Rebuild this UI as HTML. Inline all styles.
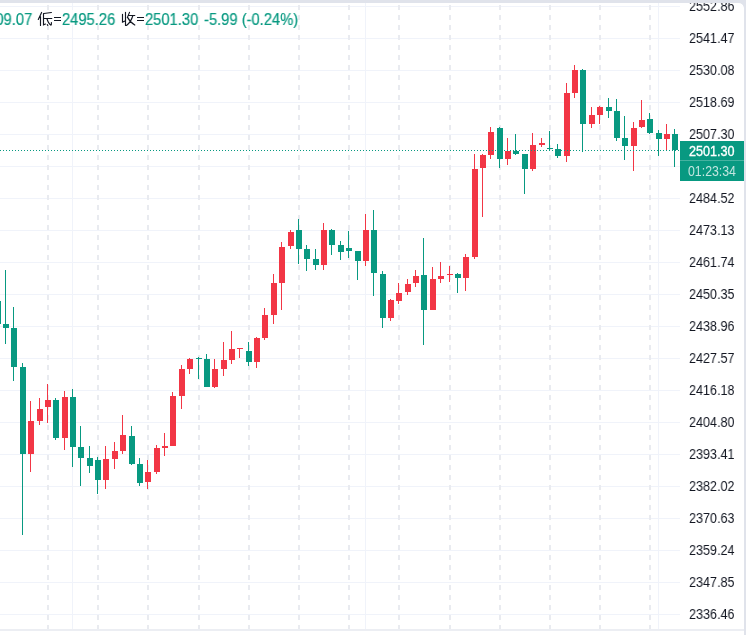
<!DOCTYPE html>
<html><head><meta charset="utf-8"><style>
html,body{margin:0;padding:0;}
body{width:746px;height:635px;overflow:hidden;background:#e0e3eb;position:relative;font-family:"Liberation Sans",sans-serif;}
#panel{position:absolute;left:-10px;top:3px;width:754px;height:640px;background:#fff;border-top-right-radius:5px;overflow:hidden;}
svg{position:absolute;left:0;top:0;}
#frame{pointer-events:none;position:absolute;left:-30px;top:3px;width:774px;height:700px;border-top-right-radius:5px;box-shadow:0 0 0 30px #e0e3eb;}
.pl{will-change:transform;position:absolute;left:689px;width:60px;font-size:14px;line-height:18px;color:#131722;transform:scaleX(0.9);transform-origin:0 0;white-space:nowrap;}
.lg{will-change:transform;position:absolute;top:10px;font-size:15.5px;line-height:18px;color:#089981;-webkit-text-stroke:0.2px #089981;white-space:nowrap;transform:scale(0.95,1.04);transform-origin:0 0;}
#badge{will-change:transform;position:absolute;left:680px;top:141px;width:64px;height:40px;background:#089981;}
#badge .t1{position:absolute;left:9px;top:3px;font-size:14px;line-height:14px;color:#fff;-webkit-text-stroke:0.35px #fff;transform:scaleX(0.9);transform-origin:0 0;}
#badge .t2{position:absolute;left:8px;top:23px;font-size:14px;line-height:14px;color:rgba(255,255,255,0.75);transform:scaleX(0.88);transform-origin:0 0;}
#badge .sep{position:absolute;left:0;top:19px;width:64px;height:1px;background:rgba(255,255,255,0.25);}
</style></head><body>
<div id="panel"></div>
<svg width="746" height="635" viewBox="0 0 746 635" shape-rendering="crispEdges">
<rect x="0" y="6" width="680" height="1" fill="#f0f3fa"/>
<rect x="0" y="38" width="680" height="1" fill="#f0f3fa"/>
<rect x="0" y="70" width="680" height="1" fill="#f0f3fa"/>
<rect x="0" y="102" width="680" height="1" fill="#f0f3fa"/>
<rect x="0" y="134" width="680" height="1" fill="#f0f3fa"/>
<rect x="0" y="166" width="680" height="1" fill="#f0f3fa"/>
<rect x="0" y="198" width="680" height="1" fill="#f0f3fa"/>
<rect x="0" y="230" width="680" height="1" fill="#f0f3fa"/>
<rect x="0" y="262" width="680" height="1" fill="#f0f3fa"/>
<rect x="0" y="294" width="680" height="1" fill="#f0f3fa"/>
<rect x="0" y="326" width="680" height="1" fill="#f0f3fa"/>
<rect x="0" y="358" width="680" height="1" fill="#f0f3fa"/>
<rect x="0" y="390" width="680" height="1" fill="#f0f3fa"/>
<rect x="0" y="422" width="680" height="1" fill="#f0f3fa"/>
<rect x="0" y="454" width="680" height="1" fill="#f0f3fa"/>
<rect x="0" y="486" width="680" height="1" fill="#f0f3fa"/>
<rect x="0" y="518" width="680" height="1" fill="#f0f3fa"/>
<rect x="0" y="550" width="680" height="1" fill="#f0f3fa"/>
<rect x="0" y="582" width="680" height="1" fill="#f0f3fa"/>
<rect x="0" y="614" width="680" height="1" fill="#f0f3fa"/>
<rect x="72" y="3" width="1" height="626" fill="#f0f3fa"/>
<rect x="365" y="3" width="1" height="626" fill="#f0f3fa"/>
<rect x="658" y="3" width="1" height="626" fill="#f0f3fa"/>
<path transform="translate(47 0)" d="M0 5h2v5h-2zM0 15h2v5h-2zM0 25h2v5h-2zM0 35h2v5h-2zM0 45h2v5h-2zM0 55h2v5h-2zM0 65h2v5h-2zM0 75h2v5h-2zM0 85h2v5h-2zM0 95h2v5h-2zM0 105h2v5h-2zM0 115h2v5h-2zM0 125h2v5h-2zM0 135h2v5h-2zM0 145h2v5h-2zM0 155h2v5h-2zM0 165h2v5h-2zM0 175h2v5h-2zM0 185h2v5h-2zM0 195h2v5h-2zM0 205h2v5h-2zM0 215h2v5h-2zM0 225h2v5h-2zM0 235h2v5h-2zM0 245h2v5h-2zM0 255h2v5h-2zM0 265h2v5h-2zM0 275h2v5h-2zM0 285h2v5h-2zM0 295h2v5h-2zM0 305h2v5h-2zM0 315h2v5h-2zM0 325h2v5h-2zM0 335h2v5h-2zM0 345h2v5h-2zM0 355h2v5h-2zM0 365h2v5h-2zM0 375h2v5h-2zM0 385h2v5h-2zM0 395h2v5h-2zM0 405h2v5h-2zM0 415h2v5h-2zM0 425h2v5h-2zM0 435h2v5h-2zM0 445h2v5h-2zM0 455h2v5h-2zM0 465h2v5h-2zM0 475h2v5h-2zM0 485h2v5h-2zM0 495h2v5h-2zM0 505h2v5h-2zM0 515h2v5h-2zM0 525h2v5h-2zM0 535h2v5h-2zM0 545h2v5h-2zM0 555h2v5h-2zM0 565h2v5h-2zM0 575h2v5h-2zM0 585h2v5h-2zM0 595h2v5h-2zM0 605h2v5h-2zM0 615h2v5h-2zM0 625h2v5h-2z" fill="#e9ebf0"/>
<path transform="translate(97 0)" d="M0 5h2v5h-2zM0 15h2v5h-2zM0 25h2v5h-2zM0 35h2v5h-2zM0 45h2v5h-2zM0 55h2v5h-2zM0 65h2v5h-2zM0 75h2v5h-2zM0 85h2v5h-2zM0 95h2v5h-2zM0 105h2v5h-2zM0 115h2v5h-2zM0 125h2v5h-2zM0 135h2v5h-2zM0 145h2v5h-2zM0 155h2v5h-2zM0 165h2v5h-2zM0 175h2v5h-2zM0 185h2v5h-2zM0 195h2v5h-2zM0 205h2v5h-2zM0 215h2v5h-2zM0 225h2v5h-2zM0 235h2v5h-2zM0 245h2v5h-2zM0 255h2v5h-2zM0 265h2v5h-2zM0 275h2v5h-2zM0 285h2v5h-2zM0 295h2v5h-2zM0 305h2v5h-2zM0 315h2v5h-2zM0 325h2v5h-2zM0 335h2v5h-2zM0 345h2v5h-2zM0 355h2v5h-2zM0 365h2v5h-2zM0 375h2v5h-2zM0 385h2v5h-2zM0 395h2v5h-2zM0 405h2v5h-2zM0 415h2v5h-2zM0 425h2v5h-2zM0 435h2v5h-2zM0 445h2v5h-2zM0 455h2v5h-2zM0 465h2v5h-2zM0 475h2v5h-2zM0 485h2v5h-2zM0 495h2v5h-2zM0 505h2v5h-2zM0 515h2v5h-2zM0 525h2v5h-2zM0 535h2v5h-2zM0 545h2v5h-2zM0 555h2v5h-2zM0 565h2v5h-2zM0 575h2v5h-2zM0 585h2v5h-2zM0 595h2v5h-2zM0 605h2v5h-2zM0 615h2v5h-2zM0 625h2v5h-2z" fill="#e9ebf0"/>
<path transform="translate(147 0)" d="M0 5h2v5h-2zM0 15h2v5h-2zM0 25h2v5h-2zM0 35h2v5h-2zM0 45h2v5h-2zM0 55h2v5h-2zM0 65h2v5h-2zM0 75h2v5h-2zM0 85h2v5h-2zM0 95h2v5h-2zM0 105h2v5h-2zM0 115h2v5h-2zM0 125h2v5h-2zM0 135h2v5h-2zM0 145h2v5h-2zM0 155h2v5h-2zM0 165h2v5h-2zM0 175h2v5h-2zM0 185h2v5h-2zM0 195h2v5h-2zM0 205h2v5h-2zM0 215h2v5h-2zM0 225h2v5h-2zM0 235h2v5h-2zM0 245h2v5h-2zM0 255h2v5h-2zM0 265h2v5h-2zM0 275h2v5h-2zM0 285h2v5h-2zM0 295h2v5h-2zM0 305h2v5h-2zM0 315h2v5h-2zM0 325h2v5h-2zM0 335h2v5h-2zM0 345h2v5h-2zM0 355h2v5h-2zM0 365h2v5h-2zM0 375h2v5h-2zM0 385h2v5h-2zM0 395h2v5h-2zM0 405h2v5h-2zM0 415h2v5h-2zM0 425h2v5h-2zM0 435h2v5h-2zM0 445h2v5h-2zM0 455h2v5h-2zM0 465h2v5h-2zM0 475h2v5h-2zM0 485h2v5h-2zM0 495h2v5h-2zM0 505h2v5h-2zM0 515h2v5h-2zM0 525h2v5h-2zM0 535h2v5h-2zM0 545h2v5h-2zM0 555h2v5h-2zM0 565h2v5h-2zM0 575h2v5h-2zM0 585h2v5h-2zM0 595h2v5h-2zM0 605h2v5h-2zM0 615h2v5h-2zM0 625h2v5h-2z" fill="#e9ebf0"/>
<path transform="translate(198 0)" d="M0 5h2v5h-2zM0 15h2v5h-2zM0 25h2v5h-2zM0 35h2v5h-2zM0 45h2v5h-2zM0 55h2v5h-2zM0 65h2v5h-2zM0 75h2v5h-2zM0 85h2v5h-2zM0 95h2v5h-2zM0 105h2v5h-2zM0 115h2v5h-2zM0 125h2v5h-2zM0 135h2v5h-2zM0 145h2v5h-2zM0 155h2v5h-2zM0 165h2v5h-2zM0 175h2v5h-2zM0 185h2v5h-2zM0 195h2v5h-2zM0 205h2v5h-2zM0 215h2v5h-2zM0 225h2v5h-2zM0 235h2v5h-2zM0 245h2v5h-2zM0 255h2v5h-2zM0 265h2v5h-2zM0 275h2v5h-2zM0 285h2v5h-2zM0 295h2v5h-2zM0 305h2v5h-2zM0 315h2v5h-2zM0 325h2v5h-2zM0 335h2v5h-2zM0 345h2v5h-2zM0 355h2v5h-2zM0 365h2v5h-2zM0 375h2v5h-2zM0 385h2v5h-2zM0 395h2v5h-2zM0 405h2v5h-2zM0 415h2v5h-2zM0 425h2v5h-2zM0 435h2v5h-2zM0 445h2v5h-2zM0 455h2v5h-2zM0 465h2v5h-2zM0 475h2v5h-2zM0 485h2v5h-2zM0 495h2v5h-2zM0 505h2v5h-2zM0 515h2v5h-2zM0 525h2v5h-2zM0 535h2v5h-2zM0 545h2v5h-2zM0 555h2v5h-2zM0 565h2v5h-2zM0 575h2v5h-2zM0 585h2v5h-2zM0 595h2v5h-2zM0 605h2v5h-2zM0 615h2v5h-2zM0 625h2v5h-2z" fill="#e9ebf0"/>
<path transform="translate(248 0)" d="M0 5h2v5h-2zM0 15h2v5h-2zM0 25h2v5h-2zM0 35h2v5h-2zM0 45h2v5h-2zM0 55h2v5h-2zM0 65h2v5h-2zM0 75h2v5h-2zM0 85h2v5h-2zM0 95h2v5h-2zM0 105h2v5h-2zM0 115h2v5h-2zM0 125h2v5h-2zM0 135h2v5h-2zM0 145h2v5h-2zM0 155h2v5h-2zM0 165h2v5h-2zM0 175h2v5h-2zM0 185h2v5h-2zM0 195h2v5h-2zM0 205h2v5h-2zM0 215h2v5h-2zM0 225h2v5h-2zM0 235h2v5h-2zM0 245h2v5h-2zM0 255h2v5h-2zM0 265h2v5h-2zM0 275h2v5h-2zM0 285h2v5h-2zM0 295h2v5h-2zM0 305h2v5h-2zM0 315h2v5h-2zM0 325h2v5h-2zM0 335h2v5h-2zM0 345h2v5h-2zM0 355h2v5h-2zM0 365h2v5h-2zM0 375h2v5h-2zM0 385h2v5h-2zM0 395h2v5h-2zM0 405h2v5h-2zM0 415h2v5h-2zM0 425h2v5h-2zM0 435h2v5h-2zM0 445h2v5h-2zM0 455h2v5h-2zM0 465h2v5h-2zM0 475h2v5h-2zM0 485h2v5h-2zM0 495h2v5h-2zM0 505h2v5h-2zM0 515h2v5h-2zM0 525h2v5h-2zM0 535h2v5h-2zM0 545h2v5h-2zM0 555h2v5h-2zM0 565h2v5h-2zM0 575h2v5h-2zM0 585h2v5h-2zM0 595h2v5h-2zM0 605h2v5h-2zM0 615h2v5h-2zM0 625h2v5h-2z" fill="#e9ebf0"/>
<path transform="translate(298 0)" d="M0 5h2v5h-2zM0 15h2v5h-2zM0 25h2v5h-2zM0 35h2v5h-2zM0 45h2v5h-2zM0 55h2v5h-2zM0 65h2v5h-2zM0 75h2v5h-2zM0 85h2v5h-2zM0 95h2v5h-2zM0 105h2v5h-2zM0 115h2v5h-2zM0 125h2v5h-2zM0 135h2v5h-2zM0 145h2v5h-2zM0 155h2v5h-2zM0 165h2v5h-2zM0 175h2v5h-2zM0 185h2v5h-2zM0 195h2v5h-2zM0 205h2v5h-2zM0 215h2v5h-2zM0 225h2v5h-2zM0 235h2v5h-2zM0 245h2v5h-2zM0 255h2v5h-2zM0 265h2v5h-2zM0 275h2v5h-2zM0 285h2v5h-2zM0 295h2v5h-2zM0 305h2v5h-2zM0 315h2v5h-2zM0 325h2v5h-2zM0 335h2v5h-2zM0 345h2v5h-2zM0 355h2v5h-2zM0 365h2v5h-2zM0 375h2v5h-2zM0 385h2v5h-2zM0 395h2v5h-2zM0 405h2v5h-2zM0 415h2v5h-2zM0 425h2v5h-2zM0 435h2v5h-2zM0 445h2v5h-2zM0 455h2v5h-2zM0 465h2v5h-2zM0 475h2v5h-2zM0 485h2v5h-2zM0 495h2v5h-2zM0 505h2v5h-2zM0 515h2v5h-2zM0 525h2v5h-2zM0 535h2v5h-2zM0 545h2v5h-2zM0 555h2v5h-2zM0 565h2v5h-2zM0 575h2v5h-2zM0 585h2v5h-2zM0 595h2v5h-2zM0 605h2v5h-2zM0 615h2v5h-2zM0 625h2v5h-2z" fill="#e9ebf0"/>
<path transform="translate(348 0)" d="M0 5h2v5h-2zM0 15h2v5h-2zM0 25h2v5h-2zM0 35h2v5h-2zM0 45h2v5h-2zM0 55h2v5h-2zM0 65h2v5h-2zM0 75h2v5h-2zM0 85h2v5h-2zM0 95h2v5h-2zM0 105h2v5h-2zM0 115h2v5h-2zM0 125h2v5h-2zM0 135h2v5h-2zM0 145h2v5h-2zM0 155h2v5h-2zM0 165h2v5h-2zM0 175h2v5h-2zM0 185h2v5h-2zM0 195h2v5h-2zM0 205h2v5h-2zM0 215h2v5h-2zM0 225h2v5h-2zM0 235h2v5h-2zM0 245h2v5h-2zM0 255h2v5h-2zM0 265h2v5h-2zM0 275h2v5h-2zM0 285h2v5h-2zM0 295h2v5h-2zM0 305h2v5h-2zM0 315h2v5h-2zM0 325h2v5h-2zM0 335h2v5h-2zM0 345h2v5h-2zM0 355h2v5h-2zM0 365h2v5h-2zM0 375h2v5h-2zM0 385h2v5h-2zM0 395h2v5h-2zM0 405h2v5h-2zM0 415h2v5h-2zM0 425h2v5h-2zM0 435h2v5h-2zM0 445h2v5h-2zM0 455h2v5h-2zM0 465h2v5h-2zM0 475h2v5h-2zM0 485h2v5h-2zM0 495h2v5h-2zM0 505h2v5h-2zM0 515h2v5h-2zM0 525h2v5h-2zM0 535h2v5h-2zM0 545h2v5h-2zM0 555h2v5h-2zM0 565h2v5h-2zM0 575h2v5h-2zM0 585h2v5h-2zM0 595h2v5h-2zM0 605h2v5h-2zM0 615h2v5h-2zM0 625h2v5h-2z" fill="#e9ebf0"/>
<path transform="translate(398 0)" d="M0 5h2v5h-2zM0 15h2v5h-2zM0 25h2v5h-2zM0 35h2v5h-2zM0 45h2v5h-2zM0 55h2v5h-2zM0 65h2v5h-2zM0 75h2v5h-2zM0 85h2v5h-2zM0 95h2v5h-2zM0 105h2v5h-2zM0 115h2v5h-2zM0 125h2v5h-2zM0 135h2v5h-2zM0 145h2v5h-2zM0 155h2v5h-2zM0 165h2v5h-2zM0 175h2v5h-2zM0 185h2v5h-2zM0 195h2v5h-2zM0 205h2v5h-2zM0 215h2v5h-2zM0 225h2v5h-2zM0 235h2v5h-2zM0 245h2v5h-2zM0 255h2v5h-2zM0 265h2v5h-2zM0 275h2v5h-2zM0 285h2v5h-2zM0 295h2v5h-2zM0 305h2v5h-2zM0 315h2v5h-2zM0 325h2v5h-2zM0 335h2v5h-2zM0 345h2v5h-2zM0 355h2v5h-2zM0 365h2v5h-2zM0 375h2v5h-2zM0 385h2v5h-2zM0 395h2v5h-2zM0 405h2v5h-2zM0 415h2v5h-2zM0 425h2v5h-2zM0 435h2v5h-2zM0 445h2v5h-2zM0 455h2v5h-2zM0 465h2v5h-2zM0 475h2v5h-2zM0 485h2v5h-2zM0 495h2v5h-2zM0 505h2v5h-2zM0 515h2v5h-2zM0 525h2v5h-2zM0 535h2v5h-2zM0 545h2v5h-2zM0 555h2v5h-2zM0 565h2v5h-2zM0 575h2v5h-2zM0 585h2v5h-2zM0 595h2v5h-2zM0 605h2v5h-2zM0 615h2v5h-2zM0 625h2v5h-2z" fill="#e9ebf0"/>
<path transform="translate(449 0)" d="M0 5h2v5h-2zM0 15h2v5h-2zM0 25h2v5h-2zM0 35h2v5h-2zM0 45h2v5h-2zM0 55h2v5h-2zM0 65h2v5h-2zM0 75h2v5h-2zM0 85h2v5h-2zM0 95h2v5h-2zM0 105h2v5h-2zM0 115h2v5h-2zM0 125h2v5h-2zM0 135h2v5h-2zM0 145h2v5h-2zM0 155h2v5h-2zM0 165h2v5h-2zM0 175h2v5h-2zM0 185h2v5h-2zM0 195h2v5h-2zM0 205h2v5h-2zM0 215h2v5h-2zM0 225h2v5h-2zM0 235h2v5h-2zM0 245h2v5h-2zM0 255h2v5h-2zM0 265h2v5h-2zM0 275h2v5h-2zM0 285h2v5h-2zM0 295h2v5h-2zM0 305h2v5h-2zM0 315h2v5h-2zM0 325h2v5h-2zM0 335h2v5h-2zM0 345h2v5h-2zM0 355h2v5h-2zM0 365h2v5h-2zM0 375h2v5h-2zM0 385h2v5h-2zM0 395h2v5h-2zM0 405h2v5h-2zM0 415h2v5h-2zM0 425h2v5h-2zM0 435h2v5h-2zM0 445h2v5h-2zM0 455h2v5h-2zM0 465h2v5h-2zM0 475h2v5h-2zM0 485h2v5h-2zM0 495h2v5h-2zM0 505h2v5h-2zM0 515h2v5h-2zM0 525h2v5h-2zM0 535h2v5h-2zM0 545h2v5h-2zM0 555h2v5h-2zM0 565h2v5h-2zM0 575h2v5h-2zM0 585h2v5h-2zM0 595h2v5h-2zM0 605h2v5h-2zM0 615h2v5h-2zM0 625h2v5h-2z" fill="#e9ebf0"/>
<path transform="translate(499 0)" d="M0 5h2v5h-2zM0 15h2v5h-2zM0 25h2v5h-2zM0 35h2v5h-2zM0 45h2v5h-2zM0 55h2v5h-2zM0 65h2v5h-2zM0 75h2v5h-2zM0 85h2v5h-2zM0 95h2v5h-2zM0 105h2v5h-2zM0 115h2v5h-2zM0 125h2v5h-2zM0 135h2v5h-2zM0 145h2v5h-2zM0 155h2v5h-2zM0 165h2v5h-2zM0 175h2v5h-2zM0 185h2v5h-2zM0 195h2v5h-2zM0 205h2v5h-2zM0 215h2v5h-2zM0 225h2v5h-2zM0 235h2v5h-2zM0 245h2v5h-2zM0 255h2v5h-2zM0 265h2v5h-2zM0 275h2v5h-2zM0 285h2v5h-2zM0 295h2v5h-2zM0 305h2v5h-2zM0 315h2v5h-2zM0 325h2v5h-2zM0 335h2v5h-2zM0 345h2v5h-2zM0 355h2v5h-2zM0 365h2v5h-2zM0 375h2v5h-2zM0 385h2v5h-2zM0 395h2v5h-2zM0 405h2v5h-2zM0 415h2v5h-2zM0 425h2v5h-2zM0 435h2v5h-2zM0 445h2v5h-2zM0 455h2v5h-2zM0 465h2v5h-2zM0 475h2v5h-2zM0 485h2v5h-2zM0 495h2v5h-2zM0 505h2v5h-2zM0 515h2v5h-2zM0 525h2v5h-2zM0 535h2v5h-2zM0 545h2v5h-2zM0 555h2v5h-2zM0 565h2v5h-2zM0 575h2v5h-2zM0 585h2v5h-2zM0 595h2v5h-2zM0 605h2v5h-2zM0 615h2v5h-2zM0 625h2v5h-2z" fill="#e9ebf0"/>
<path transform="translate(549 0)" d="M0 5h2v5h-2zM0 15h2v5h-2zM0 25h2v5h-2zM0 35h2v5h-2zM0 45h2v5h-2zM0 55h2v5h-2zM0 65h2v5h-2zM0 75h2v5h-2zM0 85h2v5h-2zM0 95h2v5h-2zM0 105h2v5h-2zM0 115h2v5h-2zM0 125h2v5h-2zM0 135h2v5h-2zM0 145h2v5h-2zM0 155h2v5h-2zM0 165h2v5h-2zM0 175h2v5h-2zM0 185h2v5h-2zM0 195h2v5h-2zM0 205h2v5h-2zM0 215h2v5h-2zM0 225h2v5h-2zM0 235h2v5h-2zM0 245h2v5h-2zM0 255h2v5h-2zM0 265h2v5h-2zM0 275h2v5h-2zM0 285h2v5h-2zM0 295h2v5h-2zM0 305h2v5h-2zM0 315h2v5h-2zM0 325h2v5h-2zM0 335h2v5h-2zM0 345h2v5h-2zM0 355h2v5h-2zM0 365h2v5h-2zM0 375h2v5h-2zM0 385h2v5h-2zM0 395h2v5h-2zM0 405h2v5h-2zM0 415h2v5h-2zM0 425h2v5h-2zM0 435h2v5h-2zM0 445h2v5h-2zM0 455h2v5h-2zM0 465h2v5h-2zM0 475h2v5h-2zM0 485h2v5h-2zM0 495h2v5h-2zM0 505h2v5h-2zM0 515h2v5h-2zM0 525h2v5h-2zM0 535h2v5h-2zM0 545h2v5h-2zM0 555h2v5h-2zM0 565h2v5h-2zM0 575h2v5h-2zM0 585h2v5h-2zM0 595h2v5h-2zM0 605h2v5h-2zM0 615h2v5h-2zM0 625h2v5h-2z" fill="#e9ebf0"/>
<path transform="translate(599 0)" d="M0 5h2v5h-2zM0 15h2v5h-2zM0 25h2v5h-2zM0 35h2v5h-2zM0 45h2v5h-2zM0 55h2v5h-2zM0 65h2v5h-2zM0 75h2v5h-2zM0 85h2v5h-2zM0 95h2v5h-2zM0 105h2v5h-2zM0 115h2v5h-2zM0 125h2v5h-2zM0 135h2v5h-2zM0 145h2v5h-2zM0 155h2v5h-2zM0 165h2v5h-2zM0 175h2v5h-2zM0 185h2v5h-2zM0 195h2v5h-2zM0 205h2v5h-2zM0 215h2v5h-2zM0 225h2v5h-2zM0 235h2v5h-2zM0 245h2v5h-2zM0 255h2v5h-2zM0 265h2v5h-2zM0 275h2v5h-2zM0 285h2v5h-2zM0 295h2v5h-2zM0 305h2v5h-2zM0 315h2v5h-2zM0 325h2v5h-2zM0 335h2v5h-2zM0 345h2v5h-2zM0 355h2v5h-2zM0 365h2v5h-2zM0 375h2v5h-2zM0 385h2v5h-2zM0 395h2v5h-2zM0 405h2v5h-2zM0 415h2v5h-2zM0 425h2v5h-2zM0 435h2v5h-2zM0 445h2v5h-2zM0 455h2v5h-2zM0 465h2v5h-2zM0 475h2v5h-2zM0 485h2v5h-2zM0 495h2v5h-2zM0 505h2v5h-2zM0 515h2v5h-2zM0 525h2v5h-2zM0 535h2v5h-2zM0 545h2v5h-2zM0 555h2v5h-2zM0 565h2v5h-2zM0 575h2v5h-2zM0 585h2v5h-2zM0 595h2v5h-2zM0 605h2v5h-2zM0 615h2v5h-2zM0 625h2v5h-2z" fill="#e9ebf0"/>
<path transform="translate(649 0)" d="M0 5h2v5h-2zM0 15h2v5h-2zM0 25h2v5h-2zM0 35h2v5h-2zM0 45h2v5h-2zM0 55h2v5h-2zM0 65h2v5h-2zM0 75h2v5h-2zM0 85h2v5h-2zM0 95h2v5h-2zM0 105h2v5h-2zM0 115h2v5h-2zM0 125h2v5h-2zM0 135h2v5h-2zM0 145h2v5h-2zM0 155h2v5h-2zM0 165h2v5h-2zM0 175h2v5h-2zM0 185h2v5h-2zM0 195h2v5h-2zM0 205h2v5h-2zM0 215h2v5h-2zM0 225h2v5h-2zM0 235h2v5h-2zM0 245h2v5h-2zM0 255h2v5h-2zM0 265h2v5h-2zM0 275h2v5h-2zM0 285h2v5h-2zM0 295h2v5h-2zM0 305h2v5h-2zM0 315h2v5h-2zM0 325h2v5h-2zM0 335h2v5h-2zM0 345h2v5h-2zM0 355h2v5h-2zM0 365h2v5h-2zM0 375h2v5h-2zM0 385h2v5h-2zM0 395h2v5h-2zM0 405h2v5h-2zM0 415h2v5h-2zM0 425h2v5h-2zM0 435h2v5h-2zM0 445h2v5h-2zM0 455h2v5h-2zM0 465h2v5h-2zM0 475h2v5h-2zM0 485h2v5h-2zM0 495h2v5h-2zM0 505h2v5h-2zM0 515h2v5h-2zM0 525h2v5h-2zM0 535h2v5h-2zM0 545h2v5h-2zM0 555h2v5h-2zM0 565h2v5h-2zM0 575h2v5h-2zM0 585h2v5h-2zM0 595h2v5h-2zM0 605h2v5h-2zM0 615h2v5h-2zM0 625h2v5h-2z" fill="#e9ebf0"/>
<rect x="0" y="629" width="744" height="2" fill="#eceef3"/>
<rect x="-3" y="295" width="1" height="35" fill="#089981"/>
<rect x="-5" y="301" width="6" height="23" fill="#089981"/>
<rect x="5" y="270" width="1" height="74" fill="#089981"/>
<rect x="3" y="324" width="6" height="4" fill="#089981"/>
<rect x="13" y="307" width="1" height="74" fill="#089981"/>
<rect x="11" y="328" width="6" height="39" fill="#089981"/>
<rect x="22" y="363" width="1" height="172" fill="#089981"/>
<rect x="20" y="367" width="6" height="87" fill="#089981"/>
<rect x="30" y="401" width="1" height="71" fill="#f23645"/>
<rect x="28" y="421" width="6" height="33" fill="#f23645"/>
<rect x="39" y="398" width="1" height="27" fill="#f23645"/>
<rect x="37" y="409" width="6" height="12" fill="#f23645"/>
<rect x="47" y="384" width="1" height="39" fill="#f23645"/>
<rect x="45" y="400" width="6" height="7" fill="#f23645"/>
<rect x="55" y="398" width="1" height="42" fill="#089981"/>
<rect x="53" y="400" width="6" height="38" fill="#089981"/>
<rect x="64" y="391" width="1" height="59" fill="#f23645"/>
<rect x="62" y="397" width="6" height="41" fill="#f23645"/>
<rect x="72" y="389" width="1" height="78" fill="#089981"/>
<rect x="70" y="397" width="6" height="50" fill="#089981"/>
<rect x="80" y="426" width="1" height="60" fill="#089981"/>
<rect x="78" y="447" width="6" height="11" fill="#089981"/>
<rect x="89" y="446" width="1" height="27" fill="#089981"/>
<rect x="87" y="458" width="6" height="8" fill="#089981"/>
<rect x="97" y="457" width="1" height="37" fill="#089981"/>
<rect x="95" y="460" width="6" height="20" fill="#089981"/>
<rect x="105" y="446" width="1" height="43" fill="#f23645"/>
<rect x="103" y="459" width="6" height="21" fill="#f23645"/>
<rect x="114" y="442" width="1" height="27" fill="#f23645"/>
<rect x="112" y="451" width="6" height="8" fill="#f23645"/>
<rect x="122" y="415" width="1" height="39" fill="#f23645"/>
<rect x="120" y="435" width="6" height="16" fill="#f23645"/>
<rect x="131" y="426" width="1" height="39" fill="#089981"/>
<rect x="129" y="436" width="6" height="28" fill="#089981"/>
<rect x="139" y="458" width="1" height="28" fill="#089981"/>
<rect x="137" y="464" width="6" height="19" fill="#089981"/>
<rect x="147" y="460" width="1" height="29" fill="#f23645"/>
<rect x="145" y="472" width="6" height="10" fill="#f23645"/>
<rect x="156" y="445" width="1" height="29" fill="#f23645"/>
<rect x="154" y="448" width="6" height="24" fill="#f23645"/>
<rect x="164" y="433" width="1" height="23" fill="#f23645"/>
<rect x="162" y="446" width="6" height="2" fill="#f23645"/>
<rect x="172" y="392" width="1" height="54" fill="#f23645"/>
<rect x="170" y="396" width="6" height="50" fill="#f23645"/>
<rect x="181" y="365" width="1" height="44" fill="#f23645"/>
<rect x="179" y="369" width="6" height="27" fill="#f23645"/>
<rect x="189" y="358" width="1" height="16" fill="#f23645"/>
<rect x="187" y="359" width="6" height="10" fill="#f23645"/>
<rect x="198" y="357" width="1" height="22" fill="#089981"/>
<rect x="196" y="358" width="6" height="1" fill="#089981"/>
<rect x="206" y="354" width="1" height="33" fill="#089981"/>
<rect x="204" y="359" width="6" height="28" fill="#089981"/>
<rect x="214" y="359" width="1" height="29" fill="#f23645"/>
<rect x="212" y="369" width="6" height="18" fill="#f23645"/>
<rect x="223" y="342" width="1" height="34" fill="#f23645"/>
<rect x="221" y="360" width="6" height="9" fill="#f23645"/>
<rect x="231" y="331" width="1" height="33" fill="#f23645"/>
<rect x="229" y="349" width="6" height="11" fill="#f23645"/>
<rect x="239" y="348" width="1" height="10" fill="#f23645"/>
<rect x="237" y="348" width="6" height="1" fill="#f23645"/>
<rect x="248" y="342" width="1" height="24" fill="#089981"/>
<rect x="246" y="351" width="6" height="11" fill="#089981"/>
<rect x="256" y="337" width="1" height="31" fill="#f23645"/>
<rect x="254" y="338" width="6" height="24" fill="#f23645"/>
<rect x="264" y="308" width="1" height="32" fill="#f23645"/>
<rect x="262" y="315" width="6" height="23" fill="#f23645"/>
<rect x="273" y="274" width="1" height="50" fill="#f23645"/>
<rect x="271" y="283" width="6" height="32" fill="#f23645"/>
<rect x="281" y="242" width="1" height="68" fill="#f23645"/>
<rect x="279" y="247" width="6" height="36" fill="#f23645"/>
<rect x="290" y="230" width="1" height="19" fill="#f23645"/>
<rect x="288" y="232" width="6" height="14" fill="#f23645"/>
<rect x="298" y="219" width="1" height="45" fill="#089981"/>
<rect x="296" y="230" width="6" height="19" fill="#089981"/>
<rect x="306" y="245" width="1" height="26" fill="#089981"/>
<rect x="304" y="249" width="6" height="10" fill="#089981"/>
<rect x="315" y="249" width="1" height="21" fill="#089981"/>
<rect x="313" y="259" width="6" height="6" fill="#089981"/>
<rect x="323" y="223" width="1" height="47" fill="#f23645"/>
<rect x="321" y="230" width="6" height="35" fill="#f23645"/>
<rect x="331" y="229" width="1" height="26" fill="#089981"/>
<rect x="329" y="230" width="6" height="15" fill="#089981"/>
<rect x="340" y="241" width="1" height="19" fill="#089981"/>
<rect x="338" y="245" width="6" height="7" fill="#089981"/>
<rect x="348" y="231" width="1" height="27" fill="#089981"/>
<rect x="346" y="248" width="6" height="3" fill="#089981"/>
<rect x="357" y="251" width="1" height="29" fill="#089981"/>
<rect x="355" y="251" width="6" height="10" fill="#089981"/>
<rect x="365" y="214" width="1" height="52" fill="#f23645"/>
<rect x="363" y="230" width="6" height="31" fill="#f23645"/>
<rect x="373" y="210" width="1" height="86" fill="#089981"/>
<rect x="371" y="230" width="6" height="43" fill="#089981"/>
<rect x="382" y="271" width="1" height="57" fill="#089981"/>
<rect x="380" y="274" width="6" height="44" fill="#089981"/>
<rect x="390" y="299" width="1" height="22" fill="#f23645"/>
<rect x="388" y="300" width="6" height="18" fill="#f23645"/>
<rect x="398" y="283" width="1" height="21" fill="#f23645"/>
<rect x="396" y="293" width="6" height="8" fill="#f23645"/>
<rect x="407" y="279" width="1" height="16" fill="#f23645"/>
<rect x="405" y="284" width="6" height="8" fill="#f23645"/>
<rect x="415" y="270" width="1" height="17" fill="#f23645"/>
<rect x="413" y="276" width="6" height="7" fill="#f23645"/>
<rect x="423" y="238" width="1" height="107" fill="#089981"/>
<rect x="421" y="275" width="6" height="35" fill="#089981"/>
<rect x="432" y="267" width="1" height="43" fill="#f23645"/>
<rect x="430" y="279" width="6" height="31" fill="#f23645"/>
<rect x="440" y="262" width="1" height="21" fill="#f23645"/>
<rect x="438" y="276" width="6" height="3" fill="#f23645"/>
<rect x="449" y="266" width="1" height="16" fill="#f23645"/>
<rect x="447" y="274" width="6" height="1" fill="#f23645"/>
<rect x="457" y="273" width="1" height="20" fill="#089981"/>
<rect x="455" y="274" width="6" height="4" fill="#089981"/>
<rect x="465" y="254" width="1" height="37" fill="#f23645"/>
<rect x="463" y="257" width="6" height="21" fill="#f23645"/>
<rect x="474" y="154" width="1" height="105" fill="#f23645"/>
<rect x="472" y="169" width="6" height="88" fill="#f23645"/>
<rect x="482" y="154" width="1" height="63" fill="#f23645"/>
<rect x="480" y="155" width="6" height="13" fill="#f23645"/>
<rect x="490" y="127" width="1" height="32" fill="#f23645"/>
<rect x="488" y="132" width="6" height="23" fill="#f23645"/>
<rect x="499" y="127" width="1" height="41" fill="#089981"/>
<rect x="497" y="128" width="6" height="31" fill="#089981"/>
<rect x="507" y="138" width="1" height="27" fill="#f23645"/>
<rect x="505" y="151" width="6" height="8" fill="#f23645"/>
<rect x="515" y="134" width="1" height="21" fill="#089981"/>
<rect x="513" y="151" width="6" height="3" fill="#089981"/>
<rect x="524" y="154" width="1" height="40" fill="#089981"/>
<rect x="522" y="154" width="6" height="15" fill="#089981"/>
<rect x="532" y="133" width="1" height="38" fill="#f23645"/>
<rect x="530" y="145" width="6" height="24" fill="#f23645"/>
<rect x="541" y="138" width="1" height="9" fill="#f23645"/>
<rect x="539" y="143" width="6" height="2" fill="#f23645"/>
<rect x="549" y="131" width="1" height="20" fill="#089981"/>
<rect x="547" y="148" width="6" height="1" fill="#089981"/>
<rect x="557" y="144" width="1" height="14" fill="#089981"/>
<rect x="555" y="149" width="6" height="7" fill="#089981"/>
<rect x="566" y="83" width="1" height="79" fill="#f23645"/>
<rect x="564" y="93" width="6" height="63" fill="#f23645"/>
<rect x="574" y="65" width="1" height="33" fill="#f23645"/>
<rect x="572" y="70" width="6" height="23" fill="#f23645"/>
<rect x="582" y="69" width="1" height="83" fill="#089981"/>
<rect x="580" y="70" width="6" height="54" fill="#089981"/>
<rect x="591" y="107" width="1" height="21" fill="#f23645"/>
<rect x="589" y="115" width="6" height="9" fill="#f23645"/>
<rect x="599" y="106" width="1" height="18" fill="#f23645"/>
<rect x="597" y="107" width="6" height="8" fill="#f23645"/>
<rect x="608" y="98" width="1" height="20" fill="#089981"/>
<rect x="606" y="107" width="6" height="4" fill="#089981"/>
<rect x="616" y="99" width="1" height="42" fill="#089981"/>
<rect x="614" y="111" width="6" height="27" fill="#089981"/>
<rect x="624" y="116" width="1" height="44" fill="#089981"/>
<rect x="622" y="138" width="6" height="8" fill="#089981"/>
<rect x="633" y="122" width="1" height="49" fill="#f23645"/>
<rect x="631" y="128" width="6" height="18" fill="#f23645"/>
<rect x="641" y="100" width="1" height="28" fill="#f23645"/>
<rect x="639" y="120" width="6" height="7" fill="#f23645"/>
<rect x="649" y="113" width="1" height="21" fill="#089981"/>
<rect x="647" y="119" width="6" height="14" fill="#089981"/>
<rect x="658" y="130" width="1" height="26" fill="#089981"/>
<rect x="656" y="133" width="6" height="6" fill="#089981"/>
<rect x="666" y="124" width="1" height="27" fill="#f23645"/>
<rect x="664" y="134" width="6" height="5" fill="#f23645"/>
<rect x="674" y="129" width="1" height="38" fill="#089981"/>
<rect x="672" y="134" width="6" height="16" fill="#089981"/>
<path d="M0 150h1v1h-1zM3 150h1v1h-1zM6 150h1v1h-1zM9 150h1v1h-1zM12 150h1v1h-1zM15 150h1v1h-1zM18 150h1v1h-1zM21 150h1v1h-1zM24 150h1v1h-1zM27 150h1v1h-1zM30 150h1v1h-1zM33 150h1v1h-1zM36 150h1v1h-1zM39 150h1v1h-1zM42 150h1v1h-1zM45 150h1v1h-1zM48 150h1v1h-1zM51 150h1v1h-1zM54 150h1v1h-1zM57 150h1v1h-1zM60 150h1v1h-1zM63 150h1v1h-1zM66 150h1v1h-1zM69 150h1v1h-1zM72 150h1v1h-1zM75 150h1v1h-1zM78 150h1v1h-1zM81 150h1v1h-1zM84 150h1v1h-1zM87 150h1v1h-1zM90 150h1v1h-1zM93 150h1v1h-1zM96 150h1v1h-1zM99 150h1v1h-1zM102 150h1v1h-1zM105 150h1v1h-1zM108 150h1v1h-1zM111 150h1v1h-1zM114 150h1v1h-1zM117 150h1v1h-1zM120 150h1v1h-1zM123 150h1v1h-1zM126 150h1v1h-1zM129 150h1v1h-1zM132 150h1v1h-1zM135 150h1v1h-1zM138 150h1v1h-1zM141 150h1v1h-1zM144 150h1v1h-1zM147 150h1v1h-1zM150 150h1v1h-1zM153 150h1v1h-1zM156 150h1v1h-1zM159 150h1v1h-1zM162 150h1v1h-1zM165 150h1v1h-1zM168 150h1v1h-1zM171 150h1v1h-1zM174 150h1v1h-1zM177 150h1v1h-1zM180 150h1v1h-1zM183 150h1v1h-1zM186 150h1v1h-1zM189 150h1v1h-1zM192 150h1v1h-1zM195 150h1v1h-1zM198 150h1v1h-1zM201 150h1v1h-1zM204 150h1v1h-1zM207 150h1v1h-1zM210 150h1v1h-1zM213 150h1v1h-1zM216 150h1v1h-1zM219 150h1v1h-1zM222 150h1v1h-1zM225 150h1v1h-1zM228 150h1v1h-1zM231 150h1v1h-1zM234 150h1v1h-1zM237 150h1v1h-1zM240 150h1v1h-1zM243 150h1v1h-1zM246 150h1v1h-1zM249 150h1v1h-1zM252 150h1v1h-1zM255 150h1v1h-1zM258 150h1v1h-1zM261 150h1v1h-1zM264 150h1v1h-1zM267 150h1v1h-1zM270 150h1v1h-1zM273 150h1v1h-1zM276 150h1v1h-1zM279 150h1v1h-1zM282 150h1v1h-1zM285 150h1v1h-1zM288 150h1v1h-1zM291 150h1v1h-1zM294 150h1v1h-1zM297 150h1v1h-1zM300 150h1v1h-1zM303 150h1v1h-1zM306 150h1v1h-1zM309 150h1v1h-1zM312 150h1v1h-1zM315 150h1v1h-1zM318 150h1v1h-1zM321 150h1v1h-1zM324 150h1v1h-1zM327 150h1v1h-1zM330 150h1v1h-1zM333 150h1v1h-1zM336 150h1v1h-1zM339 150h1v1h-1zM342 150h1v1h-1zM345 150h1v1h-1zM348 150h1v1h-1zM351 150h1v1h-1zM354 150h1v1h-1zM357 150h1v1h-1zM360 150h1v1h-1zM363 150h1v1h-1zM366 150h1v1h-1zM369 150h1v1h-1zM372 150h1v1h-1zM375 150h1v1h-1zM378 150h1v1h-1zM381 150h1v1h-1zM384 150h1v1h-1zM387 150h1v1h-1zM390 150h1v1h-1zM393 150h1v1h-1zM396 150h1v1h-1zM399 150h1v1h-1zM402 150h1v1h-1zM405 150h1v1h-1zM408 150h1v1h-1zM411 150h1v1h-1zM414 150h1v1h-1zM417 150h1v1h-1zM420 150h1v1h-1zM423 150h1v1h-1zM426 150h1v1h-1zM429 150h1v1h-1zM432 150h1v1h-1zM435 150h1v1h-1zM438 150h1v1h-1zM441 150h1v1h-1zM444 150h1v1h-1zM447 150h1v1h-1zM450 150h1v1h-1zM453 150h1v1h-1zM456 150h1v1h-1zM459 150h1v1h-1zM462 150h1v1h-1zM465 150h1v1h-1zM468 150h1v1h-1zM471 150h1v1h-1zM474 150h1v1h-1zM477 150h1v1h-1zM480 150h1v1h-1zM483 150h1v1h-1zM486 150h1v1h-1zM489 150h1v1h-1zM492 150h1v1h-1zM495 150h1v1h-1zM498 150h1v1h-1zM501 150h1v1h-1zM504 150h1v1h-1zM507 150h1v1h-1zM510 150h1v1h-1zM513 150h1v1h-1zM516 150h1v1h-1zM519 150h1v1h-1zM522 150h1v1h-1zM525 150h1v1h-1zM528 150h1v1h-1zM531 150h1v1h-1zM534 150h1v1h-1zM537 150h1v1h-1zM540 150h1v1h-1zM543 150h1v1h-1zM546 150h1v1h-1zM549 150h1v1h-1zM552 150h1v1h-1zM555 150h1v1h-1zM558 150h1v1h-1zM561 150h1v1h-1zM564 150h1v1h-1zM567 150h1v1h-1zM570 150h1v1h-1zM573 150h1v1h-1zM576 150h1v1h-1zM579 150h1v1h-1zM582 150h1v1h-1zM585 150h1v1h-1zM588 150h1v1h-1zM591 150h1v1h-1zM594 150h1v1h-1zM597 150h1v1h-1zM600 150h1v1h-1zM603 150h1v1h-1zM606 150h1v1h-1zM609 150h1v1h-1zM612 150h1v1h-1zM615 150h1v1h-1zM618 150h1v1h-1zM621 150h1v1h-1zM624 150h1v1h-1zM627 150h1v1h-1zM630 150h1v1h-1zM633 150h1v1h-1zM636 150h1v1h-1zM639 150h1v1h-1zM642 150h1v1h-1zM645 150h1v1h-1zM648 150h1v1h-1zM651 150h1v1h-1zM654 150h1v1h-1zM657 150h1v1h-1zM660 150h1v1h-1zM663 150h1v1h-1zM666 150h1v1h-1zM669 150h1v1h-1zM672 150h1v1h-1zM675 150h1v1h-1zM678 150h1v1h-1z" fill="#089981"/>
</svg>
<div class="pl" style="top:-3px">2552.86</div>
<div class="pl" style="top:29px">2541.47</div>
<div class="pl" style="top:61px">2530.08</div>
<div class="pl" style="top:93px">2518.69</div>
<div class="pl" style="top:125px">2507.30</div>
<div class="pl" style="top:189px">2484.52</div>
<div class="pl" style="top:221px">2473.13</div>
<div class="pl" style="top:253px">2461.74</div>
<div class="pl" style="top:285px">2450.35</div>
<div class="pl" style="top:317px">2438.96</div>
<div class="pl" style="top:349px">2427.57</div>
<div class="pl" style="top:381px">2416.18</div>
<div class="pl" style="top:413px">2404.80</div>
<div class="pl" style="top:445px">2393.41</div>
<div class="pl" style="top:477px">2382.02</div>
<div class="pl" style="top:509px">2370.63</div>
<div class="pl" style="top:541px">2359.24</div>
<div class="pl" style="top:573px">2347.85</div>
<div class="pl" style="top:605px">2336.46</div>

<div id="badge"><div class="t1">2501.30</div><div class="sep"></div><div class="t2">01:23:34</div></div>
<div style="position:absolute;left:0;top:10px;width:298px;height:15px;background:rgba(255,255,255,0.78)"></div>
<div class="lg" style="left:-21px">2509.07</div>
<svg width="746" height="40" style="position:absolute;left:0;top:0" fill="none" stroke="#131722" stroke-width="1.15" stroke-linecap="round">
<path d="M41.6 12.4L38.3 19.5M40.5 16.5V25.5M43.9 13.5L51.4 12.5M43.5 13.5V24.8L45.5 24M43.5 18.5H51.8M46.9 18.5Q48.5 24 51 25.1Q51.6 24.5 51.4 22.5M47.3 24.6L47.8 25.3"/>
<path d="M54 17.5H61M54 20.5H61" stroke-linecap="butt"/>
<path d="M122.5 14.3V22.1L125 21M125.5 12.2V25.5M129.5 12.4L127.3 17.6M128.4 15.5H134.8M132.9 15.5Q131 22 126.5 25.5M127.6 17.3Q130 22.5 134.8 25.1"/>
<path d="M137 17.5H144M137 20.5H144" stroke-linecap="butt"/>
</svg>
<div class="lg" style="left:62px">2495.26</div>
<div class="lg" style="left:145px">2501.30</div>
<div class="lg" style="left:204px">-5.99 (-0.24%)</div>
<div id="frame"></div>
</body></html>
